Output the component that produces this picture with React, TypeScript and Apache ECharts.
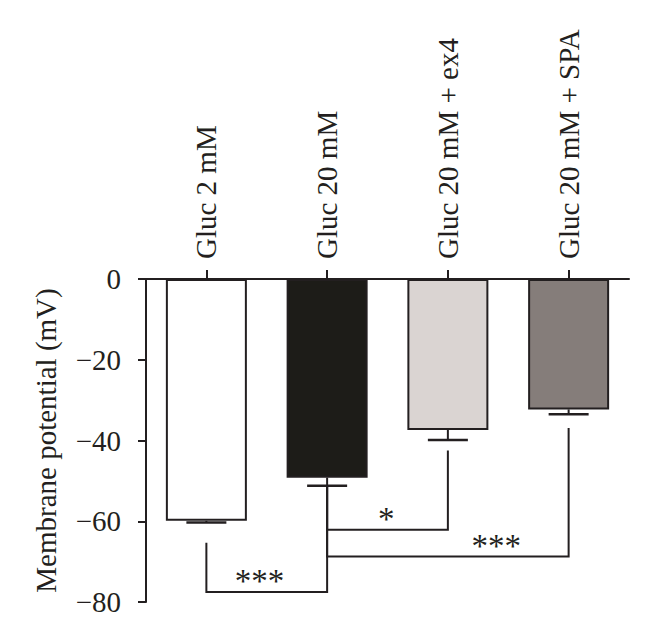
import React, { useEffect, useRef } from "react";
import * as echarts from "echarts";

const categories = ["Gluc 2 mM", "Gluc 20 mM", "Gluc 20 mM + ex4", "Gluc 20 mM + SPA"];
const means = [-59.9, -49.2, -37.4, -32.3];
const errors = [0.4, 2.0, 2.5, 1.2];
const barColors = ["#ffffff", "#1d1c18", "#dad4d2", "#857d7a"];
const yTicks = [-80, -60, -40, -20, 0];

// significance brackets
const bracketFrom = [0, 1, 1];
const bracketTo = [1, 2, 3];
const bracketFromTop = [-65.3, -51.2, -51.2];
const bracketToTop = [-51.2, -42.5, -36.9];
const bracketLevel = [-77.5, -62.1, -68.7];
const bracketLabels = ["***", "*", "***"];
const bracketLabelFrac = [0.44, 0.49, 0.7];

const INK = "#231f20";
const FONT = "Liberation Serif";

export default function App() {
  const ref = useRef<HTMLDivElement>(null);
  useEffect(() => {
    if (!ref.current) return;
    const chart = echarts.init(ref.current, null, { renderer: "svg" });
    const option: any = {
      animation: false,
      backgroundColor: "#ffffff",
      grid: { left: 146, top: 279, width: 483, height: 323, containLabel: false },
      xAxis: {
        type: "category",
        position: "top",
        data: categories,
        axisLine: { show: true, onZero: false, lineStyle: { color: INK, width: 2 } },
        axisTick: { show: true, alignWithLabel: true, length: 9, lineStyle: { color: INK, width: 2 } },
        axisLabel: {
          rotate: -90,
          margin: 20,
          fontFamily: FONT,
          fontSize: 29,
          color: INK,
          interval: 0,
        },
        splitLine: { show: false },
      },
      yAxis: {
        type: "value",
        min: yTicks[0],
        max: yTicks[yTicks.length - 1],
        interval: 20,
        name: "Membrane potential (mV)",
        nameLocation: "middle",
        nameGap: 86,
        nameTextStyle: { fontFamily: FONT, fontSize: 29, color: INK },
        axisLine: { show: true, lineStyle: { color: INK, width: 2 } },
        axisTick: { show: true, length: 8, lineStyle: { color: INK, width: 2 } },
        axisLabel: {
          margin: 25,
          fontFamily: FONT,
          fontSize: 29,
          color: INK,
          formatter: (v: number) => String(v).replace("-", "\u2212"),
        },
        splitLine: { show: false },
      },
      series: [
        {
          type: "bar",
          barWidth: 81,
          data: means.map((v, i) => ({
            value: v,
            itemStyle: { color: barColors[i], borderColor: INK, borderWidth: 2 },
          })),
          z: 2,
        },
        {
          type: "custom",
          z: 3,
          data: means.map((v, i) => [i, v, errors[i]]),
          renderItem: (params: any, api: any) => {
            const idx = api.value(0);
            const v = api.value(1);
            const e = api.value(2);
            const p1 = api.coord([idx, v]);
            const p2 = api.coord([idx, v - e]);
            const half = 20;
            return {
              type: "group",
              children: [
                { type: "line", shape: { x1: p1[0], y1: p1[1], x2: p2[0], y2: p2[1] }, style: { stroke: INK, lineWidth: 2 } },
                { type: "line", shape: { x1: p2[0] - half, y1: p2[1], x2: p2[0] + half, y2: p2[1] }, style: { stroke: INK, lineWidth: 2.5 } },
              ],
            };
          },
        },
        {
          type: "custom",
          z: 3,
          data: bracketFrom.map((f, i) => [f, bracketTo[i], bracketFromTop[i], bracketToTop[i], bracketLevel[i], bracketLabelFrac[i]]),
          renderItem: (params: any, api: any) => {
            const i = params.dataIndex;
            const a = api.coord([api.value(0), api.value(2)]);
            const b = api.coord([api.value(1), api.value(3)]);
            const la = api.coord([api.value(0), api.value(4)]);
            const lb = api.coord([api.value(1), api.value(4)]);
            const frac = api.value(5);
            const lx = la[0] + (lb[0] - la[0]) * frac;
            return {
              type: "group",
              children: [
                {
                  type: "polyline",
                  shape: { points: [[a[0], a[1]], [la[0], la[1]], [lb[0], lb[1]], [b[0], b[1]]] },
                  style: { stroke: INK, lineWidth: 2, fill: "none" },
                },
                {
                  type: "text",
                  x: lx,
                  y: la[1] + 6,
                  style: {
                    text: bracketLabels[i],
                    fontFamily: FONT,
                    fontSize: 33,
                    fill: INK,
                    align: "center",
                    verticalAlign: "bottom",
                  },
                },
              ],
            };
          },
        },
      ],
    };
    chart.setOption(option);
    return () => chart.dispose();
  }, []);
  return (
    <div
      ref={ref}
      style={{ position: "fixed", left: 0, top: 0, width: 660, height: 641, background: "#fff" }}
    />
  );
}
